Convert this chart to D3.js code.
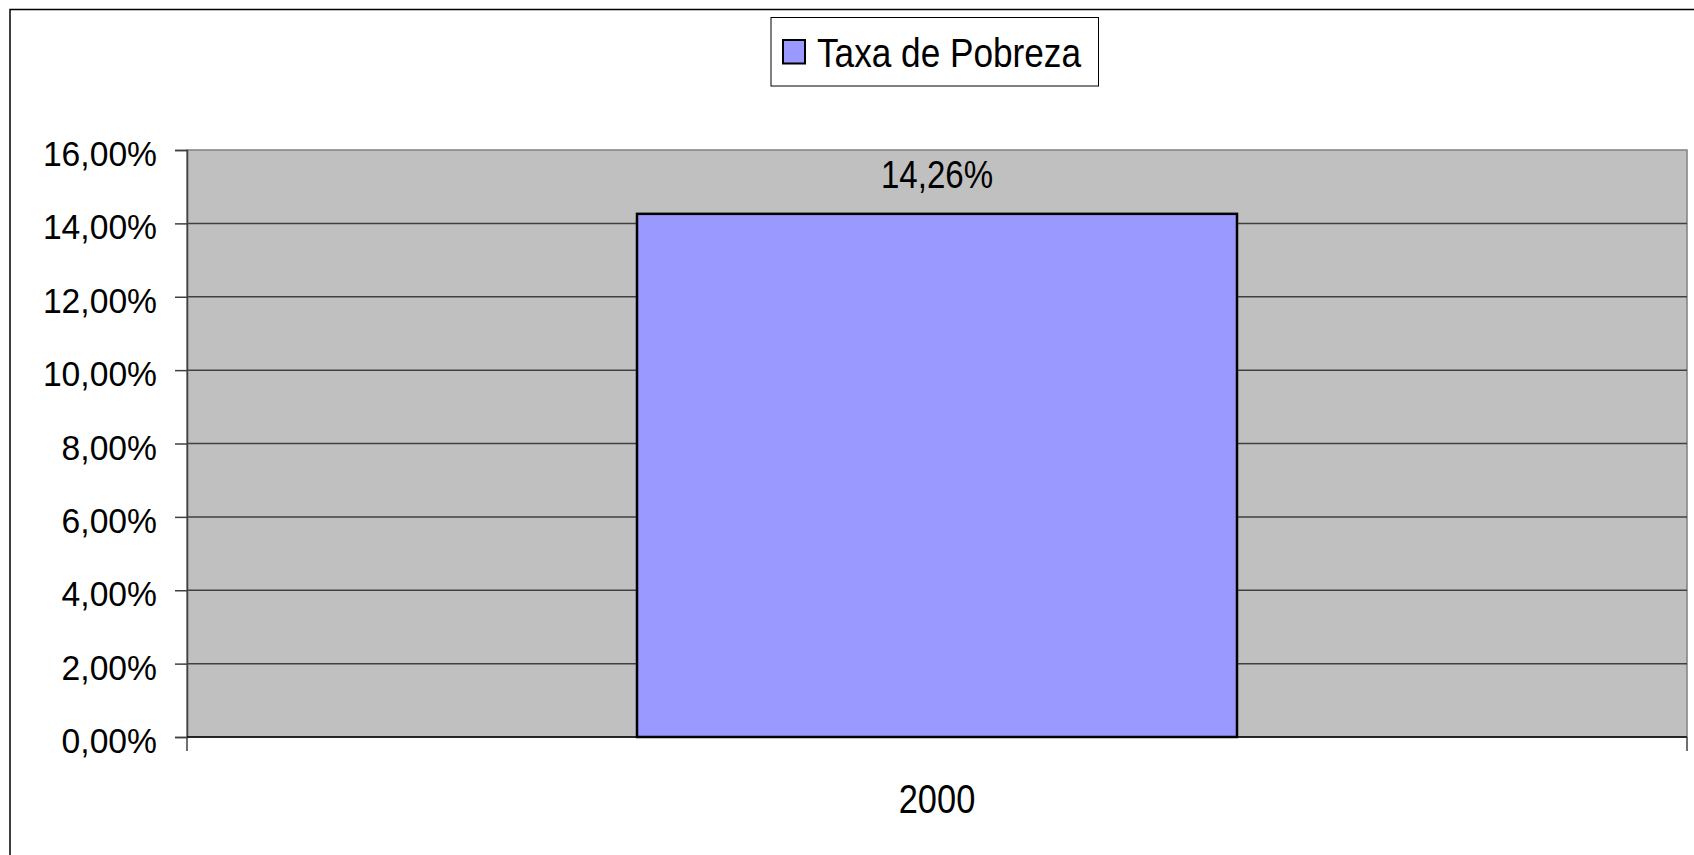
<!DOCTYPE html>
<html>
<head>
<meta charset="utf-8">
<script src="https://cdn.jsdelivr.net/npm/d3@7"></script>
<style>
	html, body { margin: 0; padding: 0; background: #fff; overflow: hidden; }
	text { font-family: "Liberation Sans", Arial, sans-serif; fill: #000; }
</style>
</head>
<body>
<svg width="1694" height="855"></svg>
<script>
// data
const categories = ["2000"];
const seriesName = "Taxa de Pobreza";
const values = [0.1426];
const yTicks = [0, 0.02, 0.04, 0.06, 0.08, 0.10, 0.12, 0.14, 0.16];

let svg = d3.select("svg"),
	width = +svg.attr("width"),
	height = +svg.attr("height");

const plot = { left: 187, right: 1687, top: 150, bottom: 737 };

const pct = v => d3.format(".2f")(v * 100).replace(".", ",") + "%";

// outer chart border (clipped by the window at right and bottom)
svg.append("rect")
	.attr("x", 10).attr("y", 9.5)
	.attr("width", width + 20).attr("height", height + 20)
	.attr("fill", "#fff")
	.attr("stroke", "#000")
	.attr("stroke-width", 1.5);

let x = d3.scaleBand()
	.domain(categories)
	.range([plot.left, plot.right])
	.padding(0);

let y = d3.scaleLinear()
	.domain([0, 0.16])
	.range([plot.bottom, plot.top]);

// plot area
svg.append("rect")
	.attr("x", plot.left).attr("y", plot.top)
	.attr("width", plot.right - plot.left)
	.attr("height", plot.bottom - plot.top)
	.attr("fill", "#c0c0c0")
	.attr("stroke", "#808080")
	.attr("stroke-width", 1.5);

// gridlines
svg.append("g")
	.selectAll("line")
	.data(yTicks.filter(d => d > 0 && d < 0.16))
	.enter().append("line")
	.attr("x1", plot.left).attr("x2", plot.right)
	.attr("y1", d => y(d)).attr("y2", d => y(d))
	.attr("stroke", "#404040")
	.attr("stroke-width", 1.5);

// y axis
let yAxis = svg.append("g")
	.attr("transform", "translate(" + plot.left + ",0)")
	.call(d3.axisLeft(y).tickValues(yTicks).tickSize(12).tickFormat(""));
yAxis.select(".domain").attr("stroke", "#404040").attr("stroke-width", 1.5);
yAxis.selectAll(".tick line").attr("stroke", "#404040").attr("stroke-width", 1.5);

svg.append("g")
	.selectAll("text")
	.data(yTicks)
	.enter().append("text")
	.attr("transform", d => "translate(157," + (y(d) + 16) + ") scale(0.935,1)")
	.attr("text-anchor", "end")
	.style("font-size", "36px")
	.text(pct);

// x axis
svg.append("line")
	.attr("x1", plot.left).attr("x2", plot.right)
	.attr("y1", plot.bottom).attr("y2", plot.bottom)
	.attr("stroke", "#000")
	.attr("stroke-width", 1.5);

let xEdges = [plot.left].concat(categories.map(c => x(c) + x.bandwidth()));
svg.append("g")
	.selectAll("line")
	.data(xEdges)
	.enter().append("line")
	.attr("x1", d => d).attr("x2", d => d)
	.attr("y1", plot.bottom).attr("y2", plot.bottom + 14)
	.attr("stroke", "#404040")
	.attr("stroke-width", 1.5);

svg.append("g")
	.selectAll("text")
	.data(categories)
	.enter().append("text")
	.attr("transform", d => "translate(" + (x(d) + x.bandwidth() / 2) + "," + (plot.bottom + 76) + ") scale(0.86,1)")
	.attr("text-anchor", "middle")
	.style("font-size", "40px")
	.text(d => d);

// bars (gap width 150%)
const barW = x.bandwidth() * 0.4;
svg.append("g")
	.selectAll("rect")
	.data(values)
	.enter().append("rect")
	.attr("x", (d, i) => x(categories[i]) + (x.bandwidth() - barW) / 2)
	.attr("y", d => y(d))
	.attr("width", barW)
	.attr("height", d => y(0) - y(d))
	.attr("fill", "#9999ff")
	.attr("stroke", "#000")
	.attr("stroke-width", 2.5);

// data labels
svg.append("g")
	.selectAll("text")
	.data(values)
	.enter().append("text")
	.attr("transform", (d, i) => "translate(" + (x(categories[i]) + x.bandwidth() / 2) + "," + (y(d) - 26) + ") scale(0.87,1)")
	.attr("text-anchor", "middle")
	.style("font-size", "38px")
	.text(pct);

// legend
let legend = svg.append("g");
legend.append("rect")
	.attr("x", 771).attr("y", 17.5)
	.attr("width", 327.5).attr("height", 68.5)
	.attr("fill", "#fff")
	.attr("stroke", "#000")
	.attr("stroke-width", 1);
legend.append("rect")
	.attr("x", 783).attr("y", 40)
	.attr("width", 22).attr("height", 23.5)
	.attr("fill", "#9999ff")
	.attr("stroke", "#000")
	.attr("stroke-width", 2);
legend.append("text")
	.attr("transform", "translate(817,66.7) scale(0.88,1)")
	.style("font-size", "40px")
	.text(seriesName);
</script>
</body>
</html>
